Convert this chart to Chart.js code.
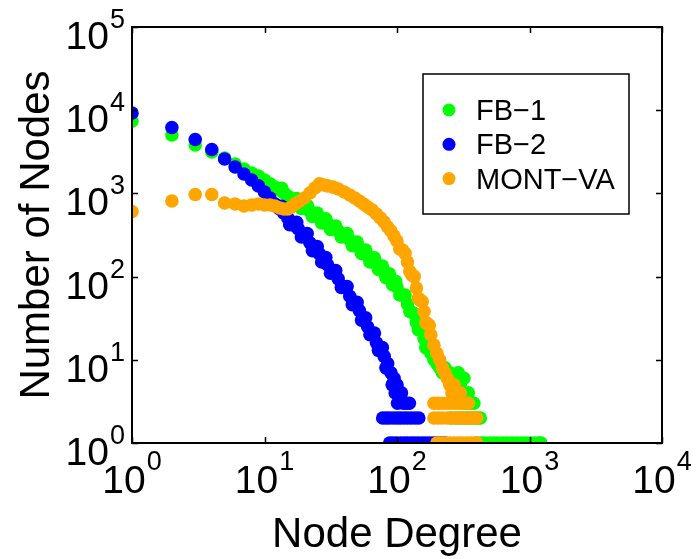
<!DOCTYPE html>
<html>
<head>
<meta charset="utf-8">
<script src="https://cdn.jsdelivr.net/npm/chart.js@4"></script>
<style>
    html, body { margin: 0; padding: 0; background: #fff; }
</style>
</head>
<body>
<canvas id="chartGrado" width="696" height="559"></canvas>
<script>
// ===============================
// DATOS - distribución de grados (log-log)
// ===============================
const xTicks = [1, 10, 100, 1000, 10000];
const yTicks = [1, 10, 100, 1000, 10000, 100000];
const seriesNames = ["FB\u22121", "FB\u22122", "MONT\u2212VA"];

// FB-1 (verde)
const fb1Degree = [1, 2, 3, 4, 5, 6, 7, 8, 9, 10, 11, 12, 13, 14, 15, 16, 17, 18, 20, 22, 24, 26, 28, 30,
    33, 36, 40, 44, 48, 52, 56, 60, 65, 70, 75, 80, 85, 90, 95, 100, 110, 120, 130, 140, 150, 160, 170,
    180, 190, 200, 210, 220, 230, 240, 250, 260, 270, 280, 290, 300, 310, 320, 330, 345, 360, 380,
    13.5, 15.5, 17.5, 19, 21, 23, 25, 27, 29, 31.5, 34.5, 38, 42, 46, 50, 54, 58, 62.5, 67.5, 72.5,
    77.5, 82.5, 87.5, 92.5, 97.5, 105, 115, 125, 135, 145, 155, 165, 175,
    255, 275, 295, 315, 335, 350, 370, 390, 410, 425,
    400, 430, 460, 500, 540, 580, 630, 680, 740, 800, 870, 940, 1020, 1100, 1180, 1220];
const fb1Count = [7420, 5030, 3820, 3150, 2660, 2250, 1960, 1760, 1620, 1450, 1300, 1190, 1100, 1010, 930,
    860, 810, 770, 690, 610, 550, 505, 465, 430, 385, 355, 315, 275, 245, 220, 200, 177, 158, 142, 127,
    114, 102, 94, 84, 75, 60, 47, 37, 28, 23, 18, 15, 12, 10, 9, 8, 7, 8, 6, 7, 5, 6, 4, 7, 5, 4, 6, 3, 4, 3, 3,
    1150, 810, 870, 660, 720, 530, 580, 440, 495, 370, 405, 300, 330, 235, 260, 190, 208, 150, 168, 122,
    134, 98, 108, 80, 88, 60, 60, 38, 36, 23, 23, 14, 15,
    2, 2, 2, 2, 2, 2, 2, 2, 2, 2,
    1, 1, 1, 1, 1, 1, 1, 1, 1, 1, 1, 1, 1, 1, 1, 1];

// FB-2 (azul)
const fb2Degree = [1, 2, 3, 4, 5, 6, 7, 8, 9, 10, 11, 12, 13, 14, 15, 16, 17, 18, 20, 22, 24, 26, 28, 30,
    33, 36, 40, 44, 48, 52, 56, 60, 65, 70, 75, 80, 85, 90, 95, 100, 92, 97, 104, 108, 101, 112, 118, 124,
    13.5, 15.5, 17.5, 19, 21, 23, 25, 27, 29, 31.5, 34.5, 38, 42, 46, 50, 54, 58, 62.5, 67.5, 72.5, 77.5, 82.5,
    78, 83, 88, 94, 100, 106, 113, 120, 128, 137, 146,
    88, 93, 99, 106, 113, 120, 128, 136, 145, 155, 165, 176, 188, 200, 215, 230];
const fb2Count = [9250, 6200, 4450, 3370, 2590, 2075, 1710, 1450, 1230, 1040, 880, 745, 650, 580, 505, 455,
    405, 375, 315, 255, 215, 187, 158, 138, 114, 94, 75, 58, 47, 39, 30, 25, 20, 16, 13, 11, 9, 7, 6, 5,
    5, 4, 4, 4, 3, 3, 3, 3,
    700, 420, 450, 300, 330, 205, 230, 150, 170, 110, 118, 74, 76, 46, 49, 30, 32, 20, 21, 13, 14, 8,
    2, 2, 2, 2, 2, 2, 2, 2, 2, 2, 2,
    1, 1, 1, 1, 1, 1, 1, 1, 1, 1, 1, 1, 1, 1, 1, 1];

// MONT-VA (naranja)
const montDegree = [1, 2, 3, 4, 5, 6, 7, 8, 9, 10, 11, 12, 13, 14, 15, 16, 17, 18, 20, 22, 24, 26, 28, 30,
    33, 36, 40, 44, 48, 52, 56, 60, 65, 70, 75, 80, 85, 90, 95, 100, 110, 120, 130, 140, 150, 160, 170,
    180, 190, 200, 210, 220, 230, 240, 250, 260, 270, 280, 300,
    105, 115, 125, 135, 145, 155, 165, 175,
    190, 205, 220, 240, 260, 280, 300, 320, 345,
    190, 205, 220, 240, 260, 280, 300, 320, 345, 370, 400,
    200, 215, 230, 250, 270, 290, 310, 335, 360, 385, 400];
const montCount = [606, 811, 970, 970, 767, 746, 706, 726, 746, 726, 726, 706, 668, 650, 650, 687, 746, 788,
    881, 1010, 1160, 1300, 1260, 1230, 1190, 1130, 1040, 957, 881, 811, 746, 687, 631, 565, 506, 453, 395,
    353, 308, 268, 209, 150, 104, 73, 52, 38, 27, 20, 15, 12, 10, 8, 7, 6, 5, 4, 5, 4, 4,
    215, 190, 115, 100, 55, 50, 28, 26,
    3, 3, 3, 3, 3, 3, 3, 3, 3,
    2, 2, 2, 2, 2, 2, 2, 2, 2, 2, 2,
    1, 1, 1, 1, 1, 1, 1, 1, 1, 1, 1];

const colores = ["#00ff00", "#0000ff", "#ffa500"];

function puntos(grados, conteos) {
    return grados.map((g, i) => ({ x: g, y: conteos[i] }));
}

const FUENTE = '"Liberation Sans", Arial, Helvetica, sans-serif';

// "10" con exponente en superíndice
function potencia(ctx, x, y, valor, alinear, supOff) {
    const exp = String(Math.round(Math.log10(valor)));
    ctx.font = "39px " + FUENTE;
    const wBase = ctx.measureText("10").width;
    ctx.font = "27px " + FUENTE;
    const wExp = ctx.measureText(exp).width;
    const total = wBase + 1 + wExp;
    const izq = alinear === "right" ? x - total : x - total / 2;
    ctx.textAlign = "left";
    ctx.textBaseline = "alphabetic";
    ctx.font = "39px " + FUENTE;
    ctx.fillText("10", izq, y);
    ctx.font = "27px " + FUENTE;
    ctx.fillText(exp, izq + wBase + 1, y - supOff);
}

// ===============================
// PLUGIN - marco, ticks, títulos y leyenda
// ===============================
const marco = {
    id: "marco",
    afterDatasetsDraw(chart) {
        const { ctx, chartArea: a, scales } = chart;
        const sx = scales.x, sy = scales.y;
        ctx.save();
        ctx.strokeStyle = "#000";
        ctx.fillStyle = "#000";

        // ticks hacia dentro
        ctx.lineWidth = 1.5;
        xTicks.forEach(v => {
            const px = Math.round(sx.getPixelForValue(v)) + 0.5;
            ctx.beginPath();
            ctx.moveTo(px, a.bottom); ctx.lineTo(px, a.bottom - 6);
            ctx.moveTo(px, a.top); ctx.lineTo(px, a.top + 6);
            ctx.stroke();
        });
        yTicks.forEach(v => {
            const py = Math.round(sy.getPixelForValue(v)) + 0.5;
            ctx.beginPath();
            ctx.moveTo(a.left, py); ctx.lineTo(a.left + 6, py);
            ctx.moveTo(a.right, py); ctx.lineTo(a.right - 6, py);
            ctx.stroke();
        });

        ctx.lineWidth = 2;
        ctx.strokeRect(a.left, a.top, a.right - a.left, a.bottom - a.top);

        // etiquetas de los ticks
        xTicks.forEach(v => potencia(ctx, sx.getPixelForValue(v), a.bottom + 50, v, "center", 23));
        yTicks.forEach(v => potencia(ctx, a.left - 7, sy.getPixelForValue(v) + 22, v, "right", 21));

        // títulos de ejes
        ctx.font = "42px " + FUENTE;
        ctx.textAlign = "center";
        ctx.textBaseline = "alphabetic";
        ctx.fillText("Node Degree", (a.left + a.right) / 2, 547);
        ctx.save();
        ctx.translate(49, (a.top + a.bottom) / 2);
        ctx.rotate(-Math.PI / 2);
        ctx.fillText("Number of Nodes", 0, 0);
        ctx.restore();

        // leyenda
        ctx.lineWidth = 1.5;
        ctx.strokeRect(423, 74, 206, 140);
        ctx.font = "29px " + FUENTE;
        ctx.textAlign = "left";
        seriesNames.forEach((n, i) => {
            const cy = 110 + i * 34.3;
            ctx.fillStyle = colores[i];
            ctx.beginPath();
            ctx.arc(449, cy, 6.5, 0, Math.PI * 2);
            ctx.fill();
            ctx.fillStyle = "#000";
            ctx.fillText(n, 476, cy + 10);
        });
        ctx.restore();
    }
};

// ===============================
// GRÁFICO DE DISPERSIÓN - Node Degree vs Number of Nodes
// ===============================
new Chart(document.getElementById("chartGrado"), {
    type: "scatter",
    data: {
        datasets: [
            {
                label: seriesNames[0],
                data: puntos(fb1Degree, fb1Count),
                backgroundColor: colores[0],
                order: 3
            },
            {
                label: seriesNames[1],
                data: puntos(fb2Degree, fb2Count),
                backgroundColor: colores[1],
                order: 2
            },
            {
                label: seriesNames[2],
                data: puntos(montDegree, montCount),
                backgroundColor: colores[2],
                order: 1
            }
        ]
    },
    options: {
        responsive: false,
        animation: false,
        layout: { padding: { left: 132, right: 34, top: 27, bottom: 116 } },
        datasets: { scatter: { clip: 0, pointRadius: 6.8, pointBorderWidth: 0, pointHoverRadius: 6.8 } },
        scales: {
            x: { type: "logarithmic", min: 1, max: 10000, display: false },
            y: { type: "logarithmic", min: 1, max: 100000, display: false }
        },
        plugins: {
            legend: { display: false },
            tooltip: { enabled: false }
        }
    },
    plugins: [marco]
});
</script>
</body>
</html>
